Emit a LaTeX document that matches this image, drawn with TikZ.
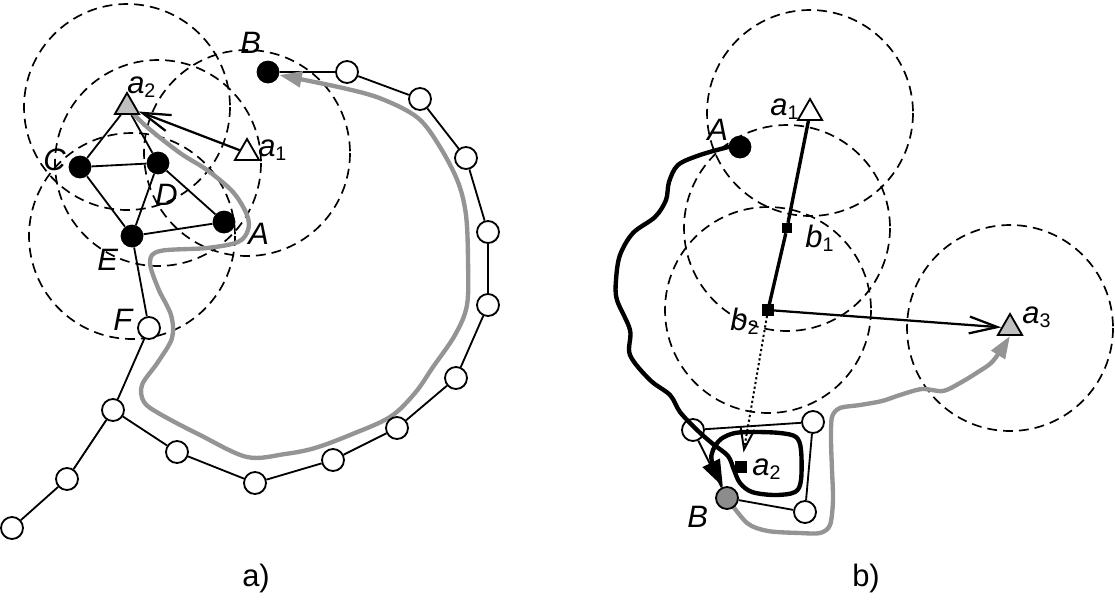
\documentclass[tikz,border=0pt]{standalone}
\usepackage{fontspec}
\setmainfont{Liberation Sans}
\usetikzlibrary{arrows.meta,shapes.geometric}
\pgfdeclarelayer{bg}
\pgfdeclarelayer{mid}
\pgfdeclarelayer{fg}
\pgfsetlayers{bg,mid,main,fg}
\definecolor{pathgray}{gray}{0.58}
\definecolor{trigray}{gray}{0.75}
\definecolor{bgray}{gray}{0.55}
\newcommand{\lab}[2]{#1\raisebox{-3pt}{\fontsize{14}{14}\selectfont\upshape #2}}
\begin{document}
\begin{tikzpicture}[x=0.025cm,y=-0.025cm,
  wnode/.style={circle,draw,line width=1.3pt,fill=white,minimum size=0.55cm,inner sep=0pt},
  bnode/.style={circle,fill=black,minimum size=0.57cm,inner sep=0pt},
  tri/.style={regular polygon,regular polygon sides=3,draw,line width=1.3pt,minimum size=0.7cm,inner sep=0pt},
  sq/.style={rectangle,fill=black,inner sep=0pt,minimum size=#1},
  lbl/.style={font=\fontsize{22}{24}\selectfont\itshape,inner sep=0pt,anchor=base west},
  captxt/.style={font=\fontsize{22}{24}\selectfont,inner sep=0pt},
  zone/.style={dash pattern=on 7pt off 4.3pt,line width=1.2pt},
  lnk/.style={line width=1.3pt},
  barb/.style={line width=1.6pt,-{Straight Barb[length=20pt,width=12pt]}},
  gpath/.style={pathgray,line width=3.1pt,line cap=round,line join=round,-{Triangle[length=16pt,width=11pt]}},
  bpath/.style={black,line width=3.1pt,line cap=round,line join=round,-{Triangle[length=19pt,width=13pt]}},
]
\useasboundingbox (0,0) rectangle (1115,601);

% ---------- panel a ----------
\node[tri,fill=trigray] (a2) at (127,107) {};
\node[tri,fill=white] (a1) at (247,153) {};
\node[bnode] (B) at (268,72) {};
\node[bnode] (C) at (80,167) {};
\node[bnode] (D) at (158,163) {};
\node[bnode] (A) at (224,222) {};
\node[bnode] (E) at (132,236) {};
\node[wnode] (F) at (149,328) {};
\node[wnode] (w1) at (347,72) {};
\node[wnode] (w2) at (420,99) {};
\node[wnode] (w3) at (466,158) {};
\node[wnode] (w4) at (488,232) {};
\node[wnode] (w5) at (488,305) {};
\node[wnode] (w6) at (456,378) {};
\node[wnode] (w7) at (397,428) {};
\node[wnode] (w8) at (333,460) {};
\node[wnode] (w9) at (255,483) {};
\node[wnode] (w10) at (177,452) {};
\node[wnode] (w11) at (113,410) {};
\node[wnode] (w12) at (67,479) {};
\node[wnode] (w13) at (12,528) {};

\node[lbl] (tB) at (240,53) {B};
\node[lbl] (ta1) at (258,156) {\lab{a}{1}};
\node[lbl] (ta2) at (127,93) {\lab{a}{2}};
\node[lbl] (tC) at (43,170) {C};
\node[lbl] (tD) at (155,205) {D};
\node[lbl] (tA) at (248,244) {A};
\node[lbl] (tE) at (97,270) {E};
\node[lbl] (tF) at (113,330) {F};
\node[captxt] (capa) at (256,578) {a)};

\begin{pgfonlayer}{bg}
\draw[zone] (a2.center) circle[radius=103];
\draw[zone] (D.center) circle[radius=103];
\draw[zone] (E.center) circle[radius=103];
\draw[zone] (a1.center) circle[radius=103];
\end{pgfonlayer}

\begin{pgfonlayer}{mid}
\draw[lnk] (a2) -- (C) (a2) -- (D) (C) -- (D) (C) -- (E) (D) -- (E)
  (D) -- (A) (E) -- (A) (E) -- (F);
\draw[lnk] (B) -- (w1) -- (w2) -- (w3) -- (w4) -- (w5) -- (w6) -- (w7)
  -- (w8) -- (w9) -- (w10) -- (w11) -- (F);
\draw[lnk] (w11) -- (w12) -- (w13);
\draw[barb] (a1) -- (a2);
\draw[gpath] plot[smooth,tension=0.55] coordinates {(a2.center) (147,127) (180,153)
  (207,170) (233,192) (247,215) (248,230) (238,242) (207,248) (160,251) (150,262)
  (158,288) (171,315) (172,338) (158,362) (142,385) (144,402) (160,414) (200,435)
  (247,457) (285,454) (315,448) (350,435) (390,417) (415,393) (433,367) (455,335)
  (467,305) (468,260) (466,215) (458,182) (440,147) (418,118) (382,99) (343,88) (B.-15)};
\end{pgfonlayer}

% ---------- panel b ----------
\node[tri,fill=white] (ra1) at (810,113) {};
\node[bnode] (rA) at (740,147) {};
\node[sq=7pt] (b1) at (787,228) {};
\node[sq=8pt] (b2) at (768,310) {};
\node[tri,fill=trigray] (a3) at (1010,328) {};
\node[sq=8.5pt] (ra2) at (741,467) {};
\node[wnode,fill=bgray] (rB) at (727,498) {};
\node[wnode] (v1) at (693,430) {};
\node[wnode] (v2) at (813,422) {};
\node[wnode] (v3) at (805,512) {};

\node[lbl] (tra1) at (770,115) {\lab{a}{1}};
\node[lbl] (trA) at (707,140) {A};
\node[lbl] (tb1) at (805,247) {\lab{b}{1}};
\node[lbl] (tb2) at (730,330) {\lab{b}{2}};
\node[lbl] (tra2) at (752,475) {\lab{a}{2}};
\node[lbl] (trB) at (687,527) {B};
\node[lbl] (ta3) at (1022,323) {\lab{a}{3}};
\node[captxt] (capb) at (866,578) {b)};

\begin{pgfonlayer}{bg}
\draw[zone] (ra1.center) circle[radius=103];
\draw[zone] (b1.center) circle[radius=103];
\draw[zone] (b2.center) circle[radius=103];
\draw[zone] (a3.center) circle[radius=103];
\end{pgfonlayer}

\begin{pgfonlayer}{mid}
\draw[lnk] (v1) -- (v2) -- (v3) -- (rB) -- (v1);
\draw[line width=2.4pt] (ra1) -- (b1) -- (b2);
\draw[barb] (b2) -- (a3);
\draw[line width=1.4pt,dash pattern=on 1.6pt off 1.8pt,-{Straight Barb[length=15pt,width=10pt]},shorten >=6pt] (b2) -- (ra2);
\draw[gpath] plot[smooth,tension=0.5] coordinates {(rB.center) (747,523) (768,531)
  (800,533) (820,533) (830,525) (833,500) (832,470) (831,440) (832,417) (840,408)
  (860,405) (882,401) (900,395) (922,389) (943,391) (960,383) (978,372) (993,361) (a3.south)};
\end{pgfonlayer}

\begin{pgfonlayer}{fg}
\draw[bpath] plot[smooth,tension=0.55] coordinates {(rA.west) (700,155) (678,165)
  (669,182) (666,200) (655,217) (633,233) (620,255) (616,280) (617,300) (630,330)
  (630,355) (650,380) (670,395) (680,412) (697,430) (713,444) (728,456) (734,470)
  (740,483) (752,492) (775,495) (795,492) (801,480) (801,450) (796,437) (780,433)
  (755,432) (735,433) (721,439) (713,450) (712,462) (rB.110)};
\end{pgfonlayer}
\end{tikzpicture}
\end{document}
